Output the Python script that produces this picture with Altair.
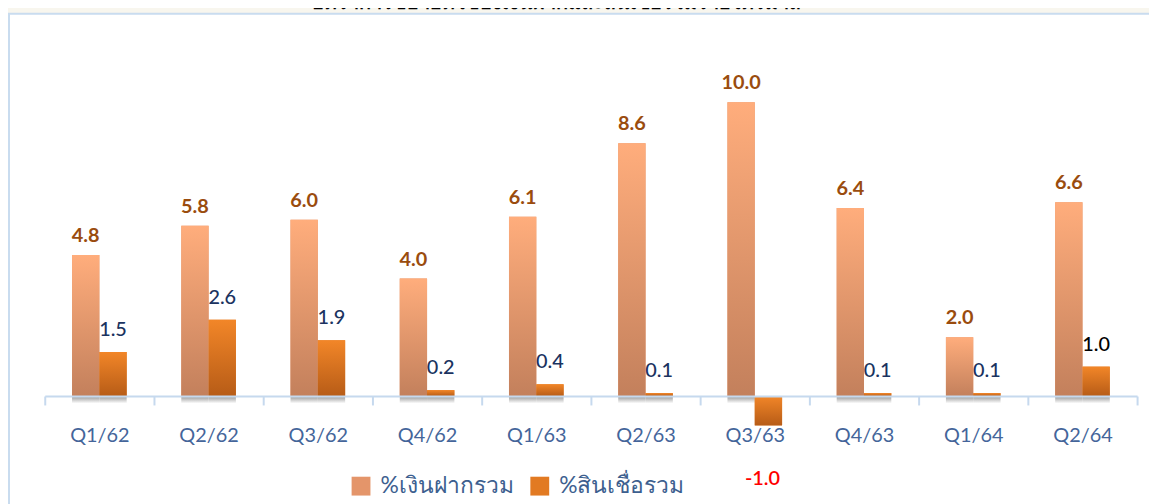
import altair as alt
import pandas as pd

quarters = ["Q1/62", "Q2/62", "Q3/62", "Q4/62", "Q1/63", "Q2/63", "Q3/63", "Q4/63", "Q1/64", "Q2/64"]
deposit = [4.8, 5.8, 6.0, 4.0, 6.1, 8.6, 10.0, 6.4, 2.0, 6.6]
loan = [1.5, 2.6, 1.9, 0.2, 0.4, 0.1, -1.0, 0.1, 0.1, 1.0]
series = ["%เงินฝากรวม", "%สินเชื่อรวม"]
title_text = "อัตราการขยายตัวของเงินฝากและสินเชื่อรวมรายไตรมาส"

rows = []
for q, d, l in zip(quarters, deposit, loan):
    rows.append({"quarter": q, "series": series[0], "value": d})
    rows.append({"quarter": q, "series": series[1], "value": l})
df = pd.DataFrame(rows)

FONT = "Lato"
x_enc = alt.X("quarter:N", sort=quarters, title=None,
              scale=alt.Scale(paddingInner=0, paddingOuter=0),
              axis=alt.Axis(labelAngle=0, labelFont=FONT, labelFontSize=20,
                            labelColor="#44659a", domainColor="#c6d9ee", domainWidth=2,
                            tickColor="#c6d9ee", tickWidth=2, tickSize=9,
                            tickBand="extent", labelPadding=21, grid=False, zindex=1))
y_scale = alt.Scale(domain=[0, 12], nice=False, zero=True)
y_enc = alt.Y("value:Q", title=None, scale=y_scale, axis=None)
xo_enc = alt.XOffset("series:N", sort=series,
                     scale=alt.Scale(domain=series, paddingInner=0, paddingOuter=1))

base = alt.Chart(df).transform_calculate(
    label="replace(format(datum.value, '.1f'), '\u2212', '-')"
)

panel = alt.Chart(pd.DataFrame({"a": [0]})).mark_rect(
    fill="white", stroke="#c9dcef", strokeWidth=2
).encode(x=alt.value(-36), x2=alt.value(1300), y=alt.value(-30), y2=alt.value(700))

legend_bars = base.mark_bar().encode(
    x=x_enc, y=y_enc, xOffset=xo_enc,
    color=alt.Color("series:N", sort=series,
                    scale=alt.Scale(domain=series, range=["#e4956a", "#e27a22"]),
                    legend=alt.Legend(title=None, orient="none", legendX=307, legendY=434,
                                      direction="horizontal", symbolType="square",
                                      symbolSize=360, symbolStrokeWidth=0, symbolOpacity=1,
                                      labelFont=FONT, labelFontSize=23, labelColor="#3d5f8f",
                                      columnPadding=15, labelOffset=8)),
)

grad_dep = alt.Gradient(gradient="linear", x1=0, x2=0, y1=0, y2=1,
                        stops=[alt.GradientStop(color="#ffad7c", offset=0),
                               alt.GradientStop(color="#c3805c", offset=1)])
grad_loan = alt.Gradient(gradient="linear", x1=0, x2=0, y1=0, y2=1,
                         stops=[alt.GradientStop(color="#f28628", offset=0),
                                alt.GradientStop(color="#b75c17", offset=1)])
grad_shadow = alt.Gradient(gradient="linear", x1=0, x2=0, y1=0, y2=1,
                           stops=[alt.GradientStop(color="#707070", offset=0),
                                  alt.GradientStop(color="#ffffff", offset=1)])

shadows = base.transform_calculate(s_top="0", s_bot="-0.25").mark_bar(
    fill=grad_shadow, opacity=0.75
).encode(
    x=x_enc, xOffset=xo_enc,
    y=alt.Y("s_top:Q", scale=y_scale, axis=None, title=None),
    y2="s_bot:Q",
)

dep_bars = base.transform_filter(alt.datum.series == series[0]).mark_bar(
    fill=grad_dep).encode(x=x_enc, y=y_enc, xOffset=xo_enc)
loan_bars = base.transform_filter(alt.datum.series == series[1]).mark_bar(
    fill=grad_loan).encode(x=x_enc, y=y_enc, xOffset=xo_enc)

dep_labels = base.transform_filter(alt.datum.series == series[0]).mark_text(
    font=FONT, fontSize=20, fontWeight="bold", color="#9a4c0e", dy=-19, baseline="middle"
).encode(x=x_enc, y=y_enc, xOffset=xo_enc, text="label:N")

loan_pos_labels = base.transform_filter(
    (alt.datum.series == series[1]) & (alt.datum.value >= 0)
).mark_text(font=FONT, fontSize=20, fontWeight=500, dy=-22, baseline="middle").encode(
    x=x_enc, y=y_enc, xOffset=xo_enc, text="label:N",
    color=alt.condition(alt.datum.quarter == quarters[-1], alt.value("#000000"),
                        alt.value("#1b3360")),
)

loan_neg_labels = base.transform_filter(
    (alt.datum.series == series[1]) & (alt.datum.value < 0)
).mark_text(font=FONT, fontSize=20, fontWeight=600, dy=54, dx=-6, baseline="middle",
            color="#ff0000").encode(
    x=x_enc, y=y_enc, xOffset=xo_enc, text="label:N")

chart = alt.layer(panel, shadows, legend_bars, dep_bars, loan_bars, dep_labels,
                  loan_pos_labels, loan_neg_labels).properties(
    width=1100, height=355,
    title=alt.TitleParams(title_text, anchor="middle", dx=-35, offset=0,
                          font=FONT, fontSize=20, fontWeight="bold", color="#000000"),
    autosize=alt.AutoSizeParams(type="none"),
    padding={"left": 37, "top": 34, "right": 12, "bottom": 107},
    background="#f8f6ee",
).configure_view(stroke=None)

chart.save("out.html", embed_options={"renderer": "svg", "actions": False})
